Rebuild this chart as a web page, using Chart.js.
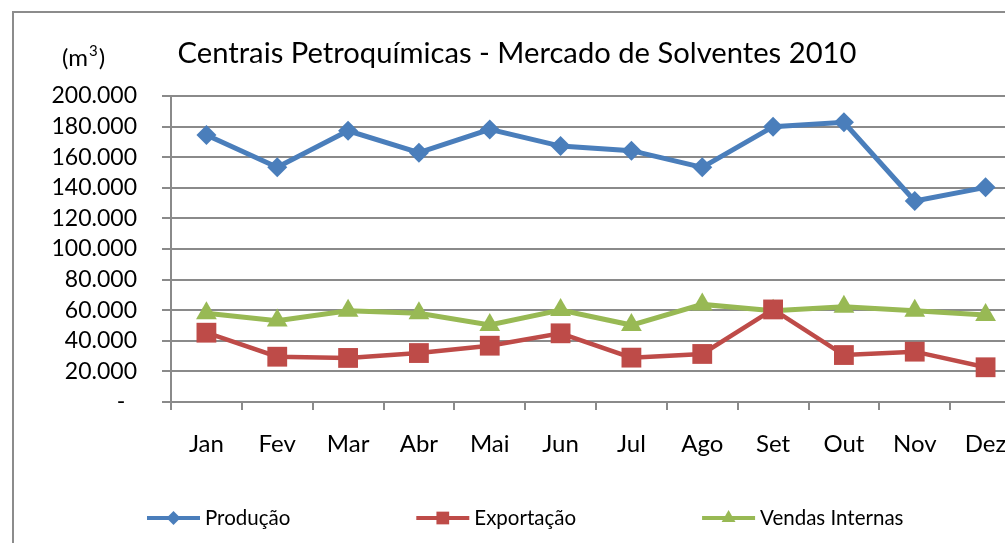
<!DOCTYPE html>
<html>
<head>
<meta charset="utf-8">
<script src="https://cdn.jsdelivr.net/npm/chart.js@4/dist/chart.umd.min.js"></script>
<style>
  html, body { margin: 0; padding: 0; background: #fff; overflow: hidden; }
  #wrap { position: absolute; left: 0; top: 0; width: 1035px; height: 543px; }
</style>
</head>
<body>
<div id="wrap"><canvas id="myChart"></canvas></div>
<script>
const months = ['Jan', 'Fev', 'Mar', 'Abr', 'Mai', 'Jun', 'Jul', 'Ago', 'Set', 'Out', 'Nov', 'Dez'];
const producao = [174500, 153400, 177300, 163000, 178200, 167300, 164300, 153400, 180000, 182800, 131400, 140300];
const exportacao = [45300, 29600, 28800, 32000, 36800, 44900, 29000, 31400, 60500, 30700, 32900, 22700];
const vendasInternas = [58000, 53200, 59700, 58000, 50300, 60100, 50300, 63800, 59700, 62300, 59700, 56900];
const yTickLabels = ['-', '20.000', '40.000', '60.000', '80.000', '100.000', '120.000', '140.000', '160.000', '180.000', '200.000'];

const FONT = 'Lato';
const BLUE = '#4a7ebb', RED = '#be4b48', GREEN = '#98b954', GRID = '#8a8a8a';

const extras = {
  id: 'extras',
  afterDraw(chart) {
    const ctx = chart.ctx;
    ctx.save();
    // outer frame
    ctx.strokeStyle = '#8c8c8c';
    ctx.lineWidth = 2;
    ctx.strokeRect(13, 12, 1100, 600);

    // unit label (m3)
    ctx.fillStyle = '#000';
    ctx.textBaseline = 'alphabetic';
    ctx.font = '24px ' + FONT;
    let x = 62;
    ctx.fillText('(m', x, 66);
    x += ctx.measureText('(m').width;
    ctx.font = '15px ' + FONT;
    ctx.fillText('3', x + 1, 56);
    x += ctx.measureText('3').width + 2;
    ctx.font = '24px ' + FONT;
    ctx.fillText(')', x, 66);

    // legend
    const items = chart.data.datasets;
    let lx = 147;
    const ly = 518;
    ctx.font = '20.5px ' + FONT;
    ctx.textBaseline = 'middle';
    items.forEach(ds => {
      ctx.strokeStyle = ds.borderColor;
      ctx.lineWidth = 4;
      ctx.beginPath();
      ctx.moveTo(lx, ly);
      ctx.lineTo(lx + 53, ly);
      ctx.stroke();
      ctx.fillStyle = ds.borderColor;
      Chart.helpers.drawPoint(ctx, { pointStyle: ds.pointStyle, radius: ds.legendRadius, borderWidth: 0 }, lx + 26.5, ly);
      ctx.fillStyle = '#000';
      ctx.fillText(ds.label, lx + 58, ly);
      lx += 58 + ctx.measureText(ds.label).width + 126;
    });
    ctx.restore();
  }
};

const data = {
  labels: months,
  datasets: [
    {
      label: 'Produção',
      data: producao,
      borderColor: BLUE,
      backgroundColor: BLUE,
      borderWidth: 5,
      pointStyle: 'rectRot',
      pointRadius: 10,
      pointBorderWidth: 0,
      legendRadius: 7
    },
    {
      label: 'Exportação',
      data: exportacao,
      borderColor: RED,
      backgroundColor: RED,
      borderWidth: 4.5,
      pointStyle: 'rect',
      pointRadius: 14,
      pointBorderWidth: 0,
      legendRadius: 9
    },
    {
      label: 'Vendas Internas',
      data: vendasInternas,
      borderColor: GREEN,
      backgroundColor: GREEN,
      borderWidth: 5,
      pointStyle: 'triangle',
      pointRadius: 12,
      pointBorderWidth: 0,
      legendRadius: 8
    }
  ]
};

const config = {
  type: 'line',
  data: data,
  plugins: [extras],
  options: {
    responsive: true,
    maintainAspectRatio: false,
    animation: false,
    layout: { padding: { left: 11, right: 12, top: 0, bottom: 0 } },
    plugins: {
      legend: { display: false },
      tooltip: { enabled: false },
      title: {
        display: true,
        text: 'Centrais Petroquímicas - Mercado de Solventes 2010',
        color: '#000',
        font: { family: FONT, size: 29.2, weight: 'normal' },
        padding: { top: 36, bottom: 25 }
      }
    },
    scales: {
      x: {
        offset: true,
        grid: { display: true, drawOnChartArea: false, drawTicks: true, tickLength: 8, color: GRID, lineWidth: 2, offset: true },
        border: { display: true, color: GRID, width: 2 },
        ticks: { color: '#000', font: { family: FONT, size: 24 }, padding: 20, autoSkip: false, maxRotation: 0 },
        afterFit(scale) { scale.height = 141; }
      },
      y: {
        min: 0,
        max: 200000,
        grid: { color: GRID, lineWidth: 2, tickLength: 9 },
        border: { display: true, color: GRID, width: 2 },
        ticks: {
          stepSize: 20000,
          autoSkip: false,
          color: '#000',
          font: { family: FONT, size: 23 },
          padding: 25,
          callback: (v, i) => i === 0 ? yTickLabels[0] + '  ' : yTickLabels[i]
        },
        afterFit(scale) { scale.width = 160; }
      }
    }
  }
};

let myChart = new Chart(document.getElementById('myChart'), config);
</script>
</body>
</html>
